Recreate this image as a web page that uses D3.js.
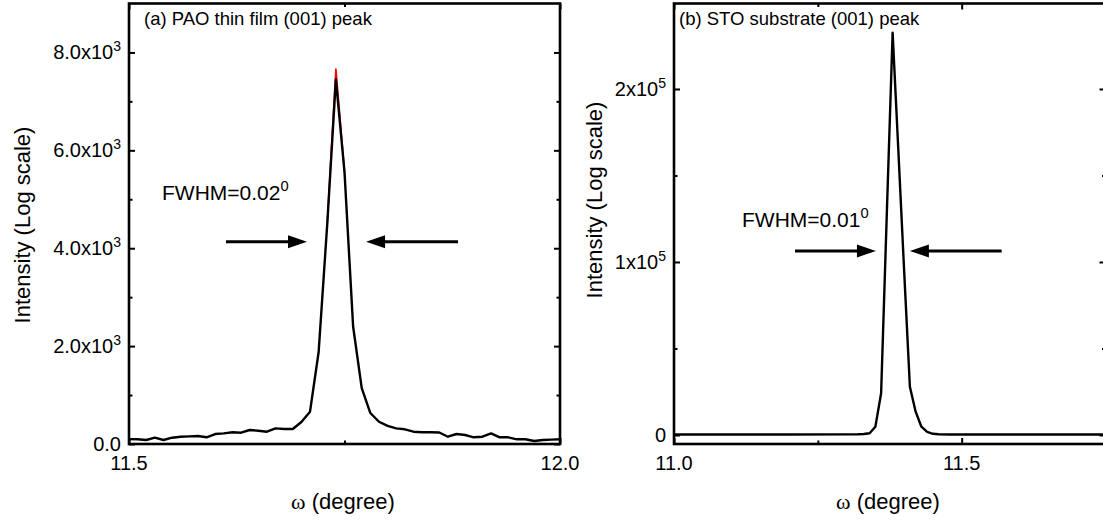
<!DOCTYPE html>
<html><head><meta charset="utf-8">
<script src="https://cdn.jsdelivr.net/npm/d3@7"></script>
<style>
body{margin:0;background:#fff}
svg{display:block}
text{font-family:"Liberation Sans",Arial,Helvetica,sans-serif;fill:#000}
</style>
</head><body>
<svg id="c" width="1103" height="520"></svg>
<script>
// ---- Panel (a) data: PAO thin film (001) peak ----
const omegaA = [11.50,11.51,11.52,11.53,11.54,11.55,11.56,11.57,11.58,11.59,
                11.60,11.61,11.62,11.63,11.64,11.65,11.66,11.67,11.68,11.69,
                11.70,11.71,11.72,11.73,11.74,11.75,11.76,11.77,11.78,11.79,
                11.80,11.81,11.82,11.83,11.84,11.85,11.86,11.87,11.88,11.89,
                11.90,11.91,11.92,11.93,11.94,11.95,11.96,11.97,11.98,11.99,12.00];
const intensityA = [100,96,82,129,82,129,149,155,163,137,
                    204,218,239,231,286,272,251,320,306,306,
                    450,660,1880,4500,7450,5560,2400,1143,633,455,
                    370,320,300,251,239,239,235,149,204,184,
                    137,149,218,137,137,96,96,61,82,90,96];
const omegaAFit = [11.73,11.74,11.75];
const intensityAFit = [4500,7670,5560];

// ---- Panel (b) data: STO substrate (001) peak ----
const omegaB = [11.00,11.10,11.20,11.30,11.32,11.33,11.34,11.35,11.36,11.37,11.38,
                11.39,11.40,11.41,11.42,11.43,11.44,11.45,11.46,11.48,11.55,11.65,11.75];
const intensityB = [300,300,300,350,450,600,1000,4800,24100,129000,232500,
                    164000,95000,27900,13500,4800,1800,700,400,300,300,300,300];

// ---- Axis ticks / labels ----
const xMajorA = [11.5, 12.0], xMinorA = [11.75];
const xLabelsA = ["11.5", "12.0"];
const yMajorA = [0, 2000, 4000, 6000, 8000], yMinorA = [1000, 3000, 5000, 7000];
const yLabelsA = [["0.0",""],["2.0x10","3"],["4.0x10","3"],["6.0x10","3"],["8.0x10","3"]];
const xMajorB = [11.0, 11.5], xMinorB = [11.25, 11.75];
const xLabelsB = ["11.0", "11.5"];
const yMajorB = [0, 100000, 200000], yMinorB = [50000, 150000];
const yLabelsB = [["0",""],["1x10","5"],["2x10","5"]];

const titles = ["(a) PAO thin film (001) peak", "(b) STO substrate (001) peak"];
const fwhmText = [["FWHM=0.02","0"], ["FWHM=0.01","0"]];
const xTitle = ["ω", " (degree)"];
const yTitle = "Intensity (Log scale)";

const svg = d3.select("#c");

function panel(cfg) {
  const x = d3.scaleLinear().domain(cfg.xDomain).range([cfg.left, cfg.right]);
  const y = d3.scaleLinear().domain(cfg.yDomain).range([cfg.bottom, cfg.top]);
  const g = svg.append("g");

  const line = d3.line().x(d => x(d[0])).y(d => y(d[1]));
  if (cfg.fit) {
    g.append("path").datum(d3.zip(cfg.fit[0], cfg.fit[1]))
      .attr("d", line).attr("fill","none").attr("stroke","#ff0000").attr("stroke-width",1.6);
  }
  g.append("path").datum(d3.zip(cfg.xs, cfg.ys))
    .attr("d", line).attr("fill","none").attr("stroke","#000").attr("stroke-width",2.4)
    .attr("stroke-linejoin","round");

  const sw = 2.6;
  function axis(gen, tx, ty, vals, size) {
    const a = g.append("g").attr("transform", `translate(${tx},${ty})`)
      .call(gen.tickValues(vals).tickSize(size).tickFormat(""));
    a.select(".domain").remove();
    a.selectAll("line").attr("stroke","#000").attr("stroke-width",2);
  }
  axis(d3.axisBottom(x), 0, cfg.bottom, cfg.xMajor, -6);
  axis(d3.axisBottom(x), 0, cfg.bottom, cfg.xMinor, -3.5);
  axis(d3.axisTop(x), 0, cfg.top, cfg.xMajor, -6);
  axis(d3.axisTop(x), 0, cfg.top, cfg.xMinor, -3.5);
  axis(d3.axisLeft(y), cfg.left, 0, cfg.yMajor, -6);
  axis(d3.axisLeft(y), cfg.left, 0, cfg.yMinor, -3.5);
  axis(d3.axisRight(y), cfg.right, 0, cfg.yMajor, -6);
  axis(d3.axisRight(y), cfg.right, 0, cfg.yMinor, -3.5);

  g.append("rect").attr("x", cfg.left).attr("y", cfg.top)
    .attr("width", cfg.right - cfg.left).attr("height", cfg.bottom - cfg.top)
    .attr("fill","none").attr("stroke","#000").attr("stroke-width",sw);

  const fs = cfg.tickFs;
  cfg.xMajor.forEach((v,i) => {
    g.append("text").attr("x", x(v)).attr("y", cfg.bottom + 26)
      .attr("text-anchor","middle").style("font-size", fs+"px").text(cfg.xLabels[i]);
  });
  cfg.yMajor.forEach((v,i) => {
    const t = g.append("text").attr("x", cfg.left - 8).attr("y", y(v) + 7)
      .attr("text-anchor","end").style("font-size", fs+"px");
    t.append("tspan").text(cfg.yLabels[i][0]);
    if (cfg.yLabels[i][1]) t.append("tspan").attr("dy",-8).style("font-size",(fs*0.7)+"px").text(cfg.yLabels[i][1]);
  });

  g.append("text").attr("x", cfg.left + cfg.titleDx).attr("y", cfg.top + 21)
    .style("font-size", cfg.titleFs+"px").text(cfg.title);
  const xt = g.append("text").attr("x", cfg.xTitleX).attr("y", 509).attr("text-anchor","middle")
    .style("font-size", cfg.axFs+"px");
  xt.append("tspan").style("font-family","'Liberation Serif','Times New Roman',serif").text(xTitle[0]);
  xt.append("tspan").text(xTitle[1]);
  g.append("text").attr("transform", `translate(${cfg.yTitleX},${cfg.yTitleY}) rotate(-90)`)
    .attr("text-anchor","middle").style("font-size", cfg.axFs+"px").text(yTitle);

  const ft = g.append("text").attr("x", cfg.fwhmX).attr("y", cfg.fwhmY)
    .style("font-size", cfg.fwhmFs+"px");
  ft.append("tspan").text(cfg.fwhm[0]);
  ft.append("tspan").attr("dy",-9).style("font-size",(cfg.fwhmFs*0.7)+"px").text(cfg.fwhm[1]);

  function arrow(x0, x1, yv) {
    const X0 = x(x0), X1 = x(x1), Y = y(yv);
    const dir = Math.sign(X1 - X0), hl = 19, hw = 6.5;
    g.append("line").attr("x1", X0).attr("x2", X1 - dir*hl*0.6).attr("y1", Y).attr("y2", Y)
      .attr("stroke","#000").attr("stroke-width",3);
    g.append("path").attr("d", `M${X1},${Y} L${X1-dir*hl},${Y-hw} L${X1-dir*hl},${Y+hw} Z`)
      .attr("fill","#000");
  }
  arrow(cfg.arrowL[0], cfg.arrowL[1], cfg.arrowY);
  arrow(cfg.arrowR[0], cfg.arrowR[1], cfg.arrowY);
}

panel({
  xDomain:[11.5,12.0], yDomain:[0,9000], left:129, right:560, top:3.5, bottom:444,
  xs:omegaA, ys:intensityA, fit:[omegaAFit, intensityAFit],
  xMajor:xMajorA, xMinor:xMinorA, xLabels:xLabelsA,
  yMajor:yMajorA, yMinor:yMinorA, yLabels:yLabelsA,
  tickFs:20, titleFs:18.5, axFs:22, fwhmFs:21, titleDx:15,
  title:titles[0], xTitleX:343, yTitleX:30, yTitleY:225,
  fwhm:fwhmText[0], fwhmX:162, fwhmY:200,
  arrowL:[11.6125, 11.7065], arrowR:[11.8817, 11.775], arrowY:4130
});
panel({
  xDomain:[11.0,11.75], yDomain:[-5200,249400], left:674, right:1105.5, top:3.5, bottom:444,
  xs:omegaB, ys:intensityB,
  xMajor:xMajorB, xMinor:xMinorB, xLabels:xLabelsB,
  yMajor:yMajorB, yMinor:yMinorB, yLabels:yLabelsB,
  tickFs:20, titleFs:18.5, axFs:22, fwhmFs:21, titleDx:5,
  title:titles[1], xTitleX:888, yTitleX:602, yTitleY:200,
  fwhm:fwhmText[1], fwhmX:742, fwhmY:227,
  arrowL:[11.2103, 11.351], arrowR:[11.5695, 11.410], arrowY:106400
});
</script>
</body></html>
